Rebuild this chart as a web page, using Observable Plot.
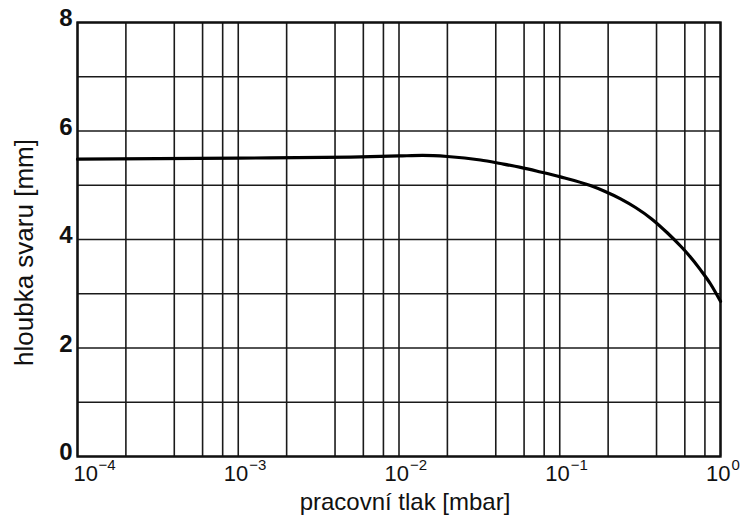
<!DOCTYPE html>
<html>
<head>
<meta charset="utf-8">
<script src="https://cdn.jsdelivr.net/npm/d3@7"></script>
<script src="https://cdn.jsdelivr.net/npm/@observablehq/plot@0.6"></script>
<style>
  html, body { margin: 0; padding: 0; background: #fff; }
  #chart svg { display: block; }
</style>
</head>
<body>
<div id="chart"></div>
<script>
// Data
const pressure = [1e-4, 1e-3, 5e-3, 1e-2, 1.4e-2, 2e-2, 0.0321, 0.0428, 0.057, 0.0759, 0.101, 0.155, 0.19, 0.239, 0.296, 0.373, 0.468, 0.564, 0.632, 0.751, 0.867, 1.0];
const depth    = [5.48, 5.50, 5.52, 5.54, 5.55, 5.53, 5.465, 5.40, 5.33, 5.245, 5.155, 4.995, 4.89, 4.75, 4.59, 4.38, 4.12, 3.88, 3.72, 3.44, 3.18, 2.86];

const xTicks = [1e-4, 1e-3, 1e-2, 1e-1, 1];
const xTickExponents = ["−4", "−3", "−2", "−1", "0"];
const gridMantissas = [1, 2, 4, 6, 8];
const yTicks = [0, 2, 4, 6, 8];
const yGrid = [0, 1, 2, 3, 4, 5, 6, 7, 8];
const xLabel = "pracovní tlak [mbar]";
const yLabel = "hloubka svaru [mm]";

const data = pressure.map((p, i) => ({p, d: depth[i]}));
const xGrid = [];
for (const t of xTicks.slice(0, -1)) for (const m of gridMantissas) xGrid.push(t * m);
xGrid.push(1);
const xTickData = xTicks.map((t, i) => ({t, e: xTickExponents[i], first: i === 0}));

const baseOpts = {x: "t", frameAnchor: "bottom", lineAnchor: "middle", fill: "#111"};

const chart = Plot.plot({
  width: 743,
  height: 517,
  marginLeft: 77,
  marginRight: 23,
  marginTop: 22,
  marginBottom: 61,
  style: {fontFamily: "Liberation Sans, Arial, sans-serif", background: "#fff", color: "#111"},
  x: {type: "log", domain: [1e-4, 1], label: null, axis: null},
  y: {domain: [0, 8], label: null},
  marks: [
    Plot.ruleX(xGrid, {stroke: "#1a1a1a", strokeWidth: 1.6}),
    Plot.ruleY(yGrid, {stroke: "#1a1a1a", strokeWidth: 1.6}),
    Plot.frame({stroke: "#111", strokeWidth: 2.4}),
    Plot.line(data, {x: "p", y: "d", curve: "monotone-x", stroke: "#000", strokeWidth: 3.2}),
    // x tick labels: "10" with superscript exponent (first one nudged right, as in the reference)
    Plot.text(xTickData, {...baseOpts, filter: d => d.first, text: () => "10", textAnchor: "start", dx: -4, dy: 17, fontSize: 22}),
    Plot.text(xTickData, {...baseOpts, filter: d => d.first, text: "e", textAnchor: "start", dx: 21, dy: 9, fontSize: 15}),
    Plot.text(xTickData, {...baseOpts, filter: d => !d.first, text: () => "10", textAnchor: "end", dx: 10, dy: 17, fontSize: 22}),
    Plot.text(xTickData, {...baseOpts, filter: d => !d.first, text: "e", textAnchor: "start", dx: 11, dy: 9, fontSize: 15}),
    Plot.axisY({ticks: yTicks, tickSize: 0, tickPadding: 5, dy: -4, fontSize: 24, fontWeight: "bold", label: null}),
    Plot.text([xLabel], {text: d => d, frameAnchor: "bottom", textAnchor: "middle", lineAnchor: "middle", dx: 6, dy: 46, fontSize: 24, fill: "#111"}),
    Plot.text([yLabel], {text: d => d, frameAnchor: "left", textAnchor: "middle", lineAnchor: "middle", dx: -53, dy: 13, rotate: -90, fontSize: 26, fill: "#111"})
  ]
});
document.getElementById("chart").appendChild(chart);
</script>
</body>
</html>
